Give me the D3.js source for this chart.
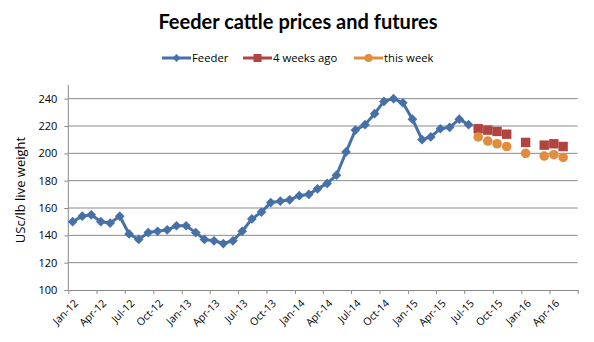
<!DOCTYPE html>
<html><head><meta charset="utf-8">
<script src="https://cdn.jsdelivr.net/npm/d3@7"></script>
<style>body{margin:0;background:#fff}svg{display:block}</style>
</head><body><svg id="c" width="594" height="342"></svg>
<script>
const feederMonths = ["2012-01","2012-02","2012-03","2012-04","2012-05","2012-06","2012-07","2012-08","2012-09","2012-10","2012-11","2012-12",
"2013-01","2013-02","2013-03","2013-04","2013-05","2013-06","2013-07","2013-08","2013-09","2013-10","2013-11","2013-12",
"2014-01","2014-02","2014-03","2014-04","2014-05","2014-06","2014-07","2014-08","2014-09","2014-10","2014-11","2014-12",
"2015-01","2015-02","2015-03","2015-04","2015-05","2015-06","2015-07"];
const feeder = [150,154,155,150,149,154,141,137,142,143,144,147,
147,142,137,136,134,136,143,152,157,164,165,166,
169,170,174,178,184,201,217,221,229,238,240,237,
225,210,212,218,219,225,221];
const futureMonths = ["2015-08","2015-09","2015-10","2015-11","2016-01","2016-03","2016-04","2016-05"];
const fourWeeksAgo = [218,217,216,214,208,206,207,205];
const thisWeek = [212,209,207,205,200,198,199,197];
const yTicks = [100,120,140,160,180,200,220,240];
const seriesNames = ["Feeder","4 weeks ago","this week"];
const colors = ["#4571a8","#b1443f","#e28c3d"];

const parse = s => { const [y,m] = s.split("-").map(Number); return new Date(y, m-1, 15); };
const svg = d3.select("#c");
const x = d3.scaleTime().domain([new Date(2012,0,1), new Date(2016,6,1)]).range([68.3, 577.7]);
const y = d3.scaleLinear().domain([100,250]).range([290,85]);
const lastLabel = new Date(2016,3,1);

// title
svg.append("text").attr("x",298).attr("y",29).attr("text-anchor","middle")
  .attr("font-family","Lato, sans-serif").attr("font-weight","bold").attr("font-size",20)
  .attr("fill","#000").text("Feeder cattle prices and futures");

// gridlines
svg.append("g").selectAll("line").data(yTicks.filter(d=>d>100)).join("line")
  .attr("x1",68.3).attr("x2",577.7).attr("y1",d=>y(d)).attr("y2",d=>y(d))
  .attr("stroke","#8a8a8a").attr("stroke-width",1);

// y axis
const ya = svg.append("g").attr("transform","translate(68.3,0)")
  .call(d3.axisLeft(y).tickValues(yTicks).tickSize(4).tickPadding(7));
ya.select(".domain").attr("stroke","#8a8a8a").attr("d","M0,85V290");
ya.selectAll(".tick line").attr("stroke","#8a8a8a");
ya.selectAll("text").attr("font-family","'Open Sans', sans-serif").attr("font-size",11).attr("fill","#000");

// x axis
const xa = svg.append("g").attr("transform","translate(0,290)")
  .call(d3.axisBottom(x).ticks(d3.timeMonth.every(3))
    .tickFormat(d => d > lastLabel ? "" : d3.timeFormat("%b-%y")(d)).tickSize(4).tickSizeOuter(0));
xa.select(".domain").attr("stroke","#8a8a8a");
xa.selectAll(".tick line").attr("stroke","#8a8a8a");
xa.selectAll("text").attr("font-family","'Open Sans', sans-serif").attr("font-size",10.5).attr("fill","#000")
  .attr("text-anchor","end").attr("dy",0).attr("transform","translate(5,9) rotate(-45)");

// y label
svg.append("text").attr("transform","translate(25,190) rotate(-90)").attr("text-anchor","middle")
  .attr("font-family","'Open Sans', sans-serif").attr("font-size",13).attr("fill","#000").text("USc/lb live weight");

const diamond = d3.symbol().type(d3.symbolDiamond2);
// Feeder line
const fd = feederMonths.map((m,i)=>({d:parse(m), v:feeder[i]}));
svg.append("path").datum(fd).attr("fill","none").attr("stroke",colors[0]).attr("stroke-width",3)
  .attr("stroke-linejoin","round")
  .attr("d", d3.line().x(p=>x(p.d)).y(p=>y(p.v)));
svg.append("g").selectAll("path").data(fd).join("path")
  .attr("transform",p=>`translate(${x(p.d)},${y(p.v)})`)
  .attr("d", diamond.size(60)()).attr("fill",colors[0]);

// futures
const f4 = futureMonths.map((m,i)=>({d:parse(m), v:fourWeeksAgo[i]}));
const tw = futureMonths.map((m,i)=>({d:parse(m), v:thisWeek[i]}));
svg.append("g").selectAll("rect").data(f4).join("rect")
  .attr("x",p=>x(p.d)-4.7).attr("y",p=>y(p.v)-4.7).attr("width",9.4).attr("height",9.4).attr("fill",colors[1]);
svg.append("g").selectAll("circle").data(tw).join("circle")
  .attr("cx",p=>x(p.d)).attr("cy",p=>y(p.v)).attr("r",4.8).attr("fill",colors[2]);

// legend
const leg = [{x:162,t:seriesNames[0]},{x:243,t:seriesNames[1]},{x:354,t:seriesNames[2]}];
leg.forEach((l,i)=>{
  const g = svg.append("g").attr("transform",`translate(${l.x},58)`);
  g.append("line").attr("x1",0).attr("x2",29).attr("stroke",colors[i]).attr("stroke-width",3);
  if(i===0) g.append("path").attr("transform","translate(14.5,0)").attr("d",diamond.size(40)()).attr("fill",colors[0]);
  if(i===1) g.append("rect").attr("x",10.5).attr("y",-4).attr("width",8).attr("height",8).attr("fill",colors[1]);
  if(i===2) g.append("circle").attr("cx",14.5).attr("r",4).attr("fill",colors[2]);
  g.append("text").attr("x",30).attr("y",4).attr("font-family","'Open Sans', sans-serif").attr("font-size",11.3)
    .attr("fill","#000").text(l.t);
});
</script></body></html>
